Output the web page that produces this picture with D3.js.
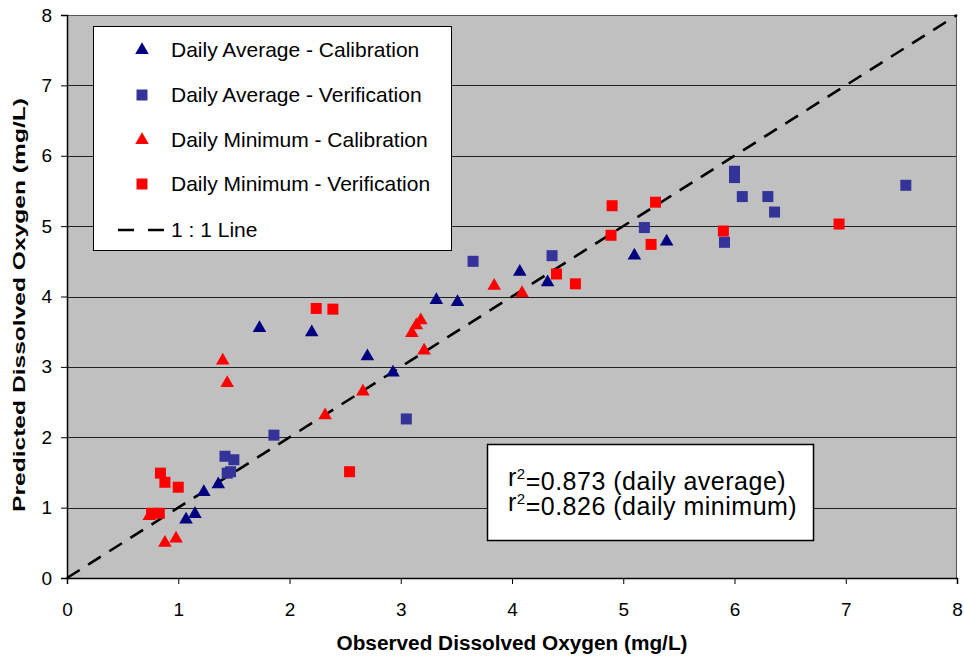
<!DOCTYPE html>
<html>
<head>
<meta charset="utf-8">
<script src="https://cdn.jsdelivr.net/npm/d3@7"></script>
<style>
  html, body { margin: 0; padding: 0; background: #fff; }
  svg { display: block; font-family: "Liberation Sans", Arial, sans-serif; }
</style>
</head>
<body>
<svg id="chart" width="964" height="660"></svg>
<script>
// Observed vs predicted dissolved oxygen (mg/L)
const avgCalObs  = [1.73, 2.20, 2.70, 1.36, 1.23, 1.15, 1.07, 5.39, 5.10, 4.07, 4.32, 3.32, 3.51, 2.93];
const avgCalPred = [3.55, 3.49, 3.15, 1.33, 1.22, 0.91, 0.83, 4.78, 4.58, 4.35, 4.20, 3.95, 3.92, 2.92];

const avgVerObs  = [1.86, 1.42, 1.50, 1.44, 1.47, 5.19, 4.36, 3.65, 3.05, 6.00, 6.00, 6.07, 6.30, 6.36, 7.54, 5.91];
const avgVerPred = [2.03, 1.73, 1.68, 1.49, 1.51, 4.98, 4.58, 4.50, 2.26, 5.78, 5.69, 5.42, 5.42, 5.20, 5.58, 4.77];

const minCalObs  = [1.40, 1.44, 2.66, 2.32, 0.74, 0.88, 0.98, 3.84, 4.09, 3.18, 3.14, 3.10, 3.21];
const minCalPred = [3.09, 2.77, 2.65, 2.31, 0.88, 0.50, 0.56, 4.15, 4.05, 3.66, 3.59, 3.48, 3.23];

const minVerObs  = [2.24, 2.39, 2.54, 0.84, 0.88, 1.00, 0.76, 0.83, 4.90, 5.29, 4.89, 5.25, 4.40, 4.57, 5.90, 6.94];
const minVerPred = [3.83, 3.82, 1.51, 1.49, 1.36, 1.29, 0.92, 0.92, 5.29, 5.34, 4.87, 4.74, 4.32, 4.18, 4.93, 5.03];

const xTicks = [0, 1, 2, 3, 4, 5, 6, 7, 8];
const yTicks = [0, 1, 2, 3, 4, 5, 6, 7, 8];
const oneToOne = [0, 8];

const seriesNames = [
  "Daily Average - Calibration",
  "Daily Average - Verification",
  "Daily Minimum - Calibration",
  "Daily Minimum - Verification"
];
const statLines = ["=0.873 (daily average)", "=0.826 (daily minimum)"];

const series = [
  { name: seriesNames[0], xs: avgCalObs, ys: avgCalPred, shape: "tri", color: "#000080" },
  { name: seriesNames[1], xs: avgVerObs, ys: avgVerPred, shape: "sq",  color: "#333399" },
  { name: seriesNames[2], xs: minCalObs, ys: minCalPred, shape: "tri", color: "#FF0000" },
  { name: seriesNames[3], xs: minVerObs, ys: minVerPred, shape: "sq",  color: "#FF0000" }
];

const svg = d3.select("#chart");
const plot = { left: 67, right: 957, top: 15, bottom: 578 };

const x = d3.scaleLinear().domain([0, 8]).range([plot.left, plot.right]);
const y = d3.scaleLinear().domain([0, 8]).range([plot.bottom, plot.top]);

// plot background
svg.append("rect")
  .attr("x", plot.left).attr("y", plot.top)
  .attr("width", plot.right - plot.left).attr("height", plot.bottom - plot.top)
  .attr("fill", "#C0C0C0");

// horizontal gridlines
svg.append("g").selectAll("line")
  .data(yTicks.slice(1, -1))
  .join("line")
  .attr("x1", plot.left).attr("x2", plot.right)
  .attr("y1", d => Math.round(y(d)) + 0.5).attr("y2", d => Math.round(y(d)) + 0.5)
  .attr("stroke", "#222").attr("stroke-width", 1);

// plot border (top / right)
svg.append("path")
  .attr("d", `M${plot.left},${plot.top + 0.5}H${plot.right - 0.5}V${plot.bottom}`)
  .attr("fill", "none").attr("stroke", "#555").attr("stroke-width", 1);

// axes
const xAxis = svg.append("g")
  .attr("transform", `translate(0,${plot.bottom})`)
  .call(d3.axisBottom(x).tickValues(xTicks).tickSize(6).tickPadding(19).tickFormat(d3.format("d")));
const yAxis = svg.append("g")
  .attr("transform", `translate(${plot.left},0)`)
  .call(d3.axisLeft(y).tickValues(yTicks).tickSize(6).tickPadding(9).tickFormat(d3.format("d")));

[xAxis, yAxis].forEach(g => {
  g.select(".domain").attr("stroke", "#000").attr("stroke-width", 1.5);
  g.selectAll(".tick line").attr("stroke", "#000");
  g.selectAll(".tick text")
    .attr("fill", "#000")
    .style("font-size", "19px")
    .style("font-family", "'Liberation Sans', Arial, sans-serif");
});

// 1:1 reference line
svg.append("line")
  .attr("x1", x(oneToOne[0])).attr("y1", y(oneToOne[0]))
  .attr("x2", x(oneToOne[1])).attr("y2", y(oneToOne[1]))
  .attr("stroke", "#000").attr("stroke-width", 2.6)
  .attr("stroke-dasharray", "15,10");

// marker shapes
const triPath = d3.symbol().type(d3.symbolTriangle).size(80)();
const sqPath = d3.symbol().type(d3.symbolSquare).size(121)();

series.forEach(s => {
  svg.append("g").selectAll("path")
    .data(s.xs.map((v, i) => [v, s.ys[i]]))
    .join("path")
    .attr("d", s.shape === "tri" ? triPath : sqPath)
    .attr("transform", d => `translate(${x(d[0])},${y(d[1])})`)
    .attr("fill", s.color);
});

// legend
const legend = svg.append("g");
legend.append("rect")
  .attr("x", 93.5).attr("y", 26.5).attr("width", 358).attr("height", 224)
  .attr("fill", "#fff").attr("stroke", "#000").attr("stroke-width", 1);
const rowY = [50, 95, 140, 184];
series.forEach((s, i) => {
  legend.append("path")
    .attr("d", s.shape === "tri" ? triPath : sqPath)
    .attr("transform", `translate(142,${rowY[i]})`)
    .attr("fill", s.color);
  legend.append("text")
    .attr("x", 171).attr("y", rowY[i]).attr("dy", "0.35em")
    .style("font-size", "21px").text(s.name);
});
legend.append("line")
  .attr("x1", 118).attr("x2", 166).attr("y1", 230).attr("y2", 230)
  .attr("stroke", "#000").attr("stroke-width", 2.6).attr("stroke-dasharray", "16,14");
legend.append("text")
  .attr("x", 171).attr("y", 230).attr("dy", "0.35em")
  .style("font-size", "21px").text("1 : 1 Line");

// r² annotation box
const stat = svg.append("g");
stat.append("rect")
  .attr("x", 487.5).attr("y", 444.5).attr("width", 326).attr("height", 96)
  .attr("fill", "#fff").attr("stroke", "#000").attr("stroke-width", 1.5);
[477, 502].forEach((ly, i) => {
  const t = stat.append("text")
    .attr("x", 508).attr("y", ly).attr("dy", "0.35em")
    .style("font-size", "25px").style("letter-spacing", "0.5px");
  t.append("tspan").text("r");
  t.append("tspan").attr("dy", "-0.45em").style("font-size", "15px").text("2");
  t.append("tspan").attr("dy", "0.45em").text(statLines[i]);
});

// axis titles
svg.append("text")
  .attr("x", 512).attr("y", 650)
  .attr("text-anchor", "middle")
  .attr("textLength", 351).attr("lengthAdjust", "spacingAndGlyphs")
  .style("font-size", "20px").style("font-weight", "bold")
  .text("Observed Dissolved Oxygen (mg/L)");
svg.append("text")
  .attr("transform", `translate(25,305) rotate(-90)`)
  .attr("text-anchor", "middle")
  .attr("textLength", 414).attr("lengthAdjust", "spacingAndGlyphs")
  .style("font-size", "17px").style("font-weight", "bold")
  .text("Predicted Dissolved Oxygen (mg/L)");
</script>
</body>
</html>
